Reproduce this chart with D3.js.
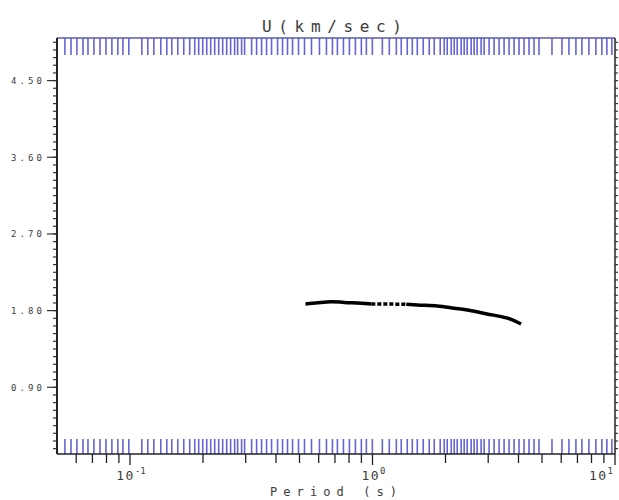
<!doctype html>
<html>
<head>
<meta charset="UTF-8">
<title>U(km/sec)</title>
<script src="https://d3js.org/d3.v7.min.js"></script>
<style>
    body{margin:0;background:#fff;}
    text{font-family:"DejaVu Sans Mono","Liberation Mono",monospace;fill:#3c3c3c;}
</style>
</head>
<body>
<script>
    // group velocity curve (period s, U km/s)
    var periods    = [0.529, 0.593, 0.677, 0.766, 0.900, 0.989, 1.098, 1.173, 1.254, 1.314, 1.378, 1.530, 1.849, 2.172, 2.552, 2.970, 3.390, 3.728, 4.098];
    var velocities = [1.878, 1.893, 1.905, 1.896, 1.886, 1.878, 1.877, 1.877, 1.876, 1.876, 1.875, 1.866, 1.855, 1.828, 1.799, 1.761, 1.729, 1.698, 1.643];
    // part of the curve drawn dotted
    var dottedFrom = 0.989, dottedTo = 1.378;

    // blue period marks along top and bottom
    var bandPeriods = [0.0539,0.0571,0.0604,0.0640,0.0671,0.0710,0.0752,0.0796,0.0842,0.0891,0.0935,0.0989,
        0.1119,0.1184,0.1254,0.1340,0.1418,0.1487,0.1574,0.1666,0.1763,0.1849,0.1920,0.1995,0.2072,0.2152,
        0.2235,0.2321,0.2411,0.2504,0.2600,0.2701,0.2779,0.2886,0.2969,0.3173,0.3327,0.3488,0.3657,0.3835,
        0.4060,0.4256,0.4462,0.4680,0.4953,0.5243,0.5602,0.6043,0.6458,0.6835,0.7166,0.7588,0.8032,0.8501,
        0.8996,0.9434,0.9986,1.098,1.173,1.254,1.314,1.391,1.459,1.530,1.619,1.714,1.797,1.902,1.976,2.033,
        2.112,2.173,2.235,2.321,2.388,2.457,2.552,2.625,2.701,2.805,2.886,3.026,3.173,3.327,3.488,3.657,
        3.835,4.020,4.216,4.421,4.636,4.860,5.497,6.043,6.458,6.900,7.303,7.804,8.340,8.828,9.256,9.706];

    var yLabels = [0.90, 1.80, 2.70, 3.60, 4.50];
    var yMinorStep = 0.09;
    var xDecades = [0.1, 1, 10];
    var xExponents = ["-1", "0", "1"];
    var xDomain = [0.05, 10], yDomain = [0.117, 5.0];

    var W = 619, H = 500;
    var L = 57, R = 615, T = 38, B = 454;

    var svg = d3.select("body").append("svg").attr("width", W).attr("height", H);

    var x = d3.scaleLog().domain(xDomain).range([L, R]);
    var y = d3.scaleLinear().domain(yDomain).range([B, T]);

    // blue marks ------------------------
    svg.append("g").selectAll("line.top").data(bandPeriods).enter().append("line")
        .attr("x1", function(d){ return x(d); }).attr("x2", function(d){ return x(d); })
        .attr("y1", T).attr("y2", T + 17)
        .attr("stroke", "#6464d4").attr("stroke-width", 1.6);
    svg.append("g").selectAll("line.bot").data(bandPeriods).enter().append("line")
        .attr("x1", function(d){ return x(d); }).attr("x2", function(d){ return x(d); })
        .attr("y1", B).attr("y2", B - 15)
        .attr("stroke", "#6464d4").attr("stroke-width", 1.6);

    // frame -----------------------------
    svg.append("line").attr("x1", L).attr("x2", R).attr("y1", T).attr("y2", T).attr("stroke", "#5a5ab4").attr("stroke-width", 1.5);
    svg.append("line").attr("x1", L).attr("x2", R).attr("y1", B).attr("y2", B).attr("stroke", "#222").attr("stroke-width", 1.5);
    svg.append("line").attr("x1", L).attr("x2", L).attr("y1", T).attr("y2", B).attr("stroke", "#222").attr("stroke-width", 2);
    svg.append("line").attr("x1", R).attr("x2", R).attr("y1", T).attr("y2", B).attr("stroke", "#222").attr("stroke-width", 1.5);

    // x ticks (below bottom) ------------
    var xt = x.ticks().filter(function(d){ return d > xDomain[0] * 1.01; });
    svg.append("g").selectAll("line").data(xt).enter().append("line")
        .attr("x1", function(d){ return x(d); }).attr("x2", function(d){ return x(d); })
        .attr("y1", B).attr("y2", function(d){ return xDecades.indexOf(d) >= 0 ? B + 11 : B + 9; })
        .attr("stroke", "#222").attr("stroke-width", 1.3);

    var xl = svg.append("g").selectAll("text").data(xDecades).enter().append("text")
        .attr("x", function(d, i){ return i == xDecades.length - 1 ? R - 2 : x(d) + 1; })
        .attr("y", 480)
        .attr("text-anchor", function(d, i){ return i == xDecades.length - 1 ? "end" : "middle"; })
        .style("font-size", "13px");
    xl.append("tspan").text("10").attr("letter-spacing", 1.5);
    xl.append("tspan").text(function(d, i){ return xExponents[i]; })
        .attr("dy", -6).style("font-size", "9px");

    // y ticks ---------------------------
    var minor = d3.range(2, 56).map(function(i){ return +(i * yMinorStep).toFixed(2); });
    svg.append("g").selectAll("line").data(minor).enter().append("line")
        .attr("x1", L - 4).attr("x2", L)
        .attr("y1", function(d){ return y(d); }).attr("y2", function(d){ return y(d); })
        .attr("stroke", "#333").attr("stroke-width", 1.2);
    svg.append("g").selectAll("line").data(minor).enter().append("line")
        .attr("x1", R).attr("x2", R + 3)
        .attr("y1", function(d){ return y(d); }).attr("y2", function(d){ return y(d); })
        .attr("stroke", "#333").attr("stroke-width", 1.2);
    svg.append("g").selectAll("line").data(yLabels).enter().append("line")
        .attr("x1", L - 10).attr("x2", L)
        .attr("y1", function(d){ return y(d); }).attr("y2", function(d){ return y(d); })
        .attr("stroke", "#333").attr("stroke-width", 1.2);
    svg.append("g").selectAll("text").data(yLabels).enter().append("text")
        .attr("x", 11).attr("y", function(d){ return y(d) + 3.5; })
        .attr("textLength", 31).attr("lengthAdjust", "spacing")
        .style("font-size", "9px")
        .text(function(d){ return d.toFixed(2); });

    // curve -----------------------------
    var pts = periods.map(function(p, i){ return [p, velocities[i]]; });
    var line = d3.line().x(function(d){ return x(d[0]); }).y(function(d){ return y(d[1]); }).curve(d3.curveMonotoneX);
    var parts = [
        {pts: pts.filter(function(d){ return d[0] <= dottedFrom; }), dash: null},
        {pts: pts.filter(function(d){ return d[0] >= dottedFrom && d[0] <= dottedTo; }), dash: "4,2"},
        {pts: pts.filter(function(d){ return d[0] >= dottedTo; }), dash: null}
    ];
    svg.append("g").selectAll("path").data(parts).enter().append("path")
        .attr("d", function(d){ return line(d.pts); })
        .attr("fill", "none").attr("stroke", "#000").attr("stroke-width", 3.5)
        .attr("stroke-dasharray", function(d){ return d.dash; });

    // titles ----------------------------
    svg.append("text").attr("x", 262).attr("y", 32)
        .attr("textLength", 140).attr("lengthAdjust", "spacing")
        .style("font-size", "16px").text("U(km/sec)");
    svg.append("text").attr("x", 270).attr("y", 496)
        .attr("textLength", 127).attr("lengthAdjust", "spacing")
        .style("font-size", "12px").text("Period (s)");
</script>
</body>
</html>
